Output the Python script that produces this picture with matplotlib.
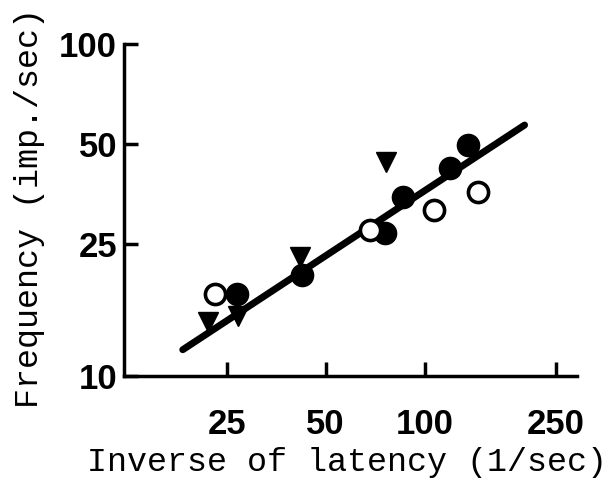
import matplotlib
matplotlib.use("Agg")
import matplotlib.pyplot as plt
from matplotlib.ticker import FixedLocator, NullLocator

# Data (log-log axes)
filled_x = [26.8, 42.3, 75.5, 85.7, 119, 135]
filled_y = [17.7, 20.1, 27.0, 34.6, 42.3, 49.6]
open_x = [23.1, 68.0, 107, 145]
open_y = [17.7, 27.5, 31.6, 35.8]
tri_x = [21.9, 27.0, 41.7, 76.4]
tri_y = [14.5, 15.2, 22.8, 44.1]
fit_x = [18.4, 201]
fit_y = [12.0, 57.0]

x_ticks = [25, 50, 100, 250]
y_ticks = [10, 25, 50, 100]

fig = plt.figure(figsize=(6.16, 4.82), dpi=100)
ax = fig.add_axes([124 / 616, 1 - 376 / 482, (577 - 124) / 616, (376 - 44) / 482])
ax.set_xscale("log")
ax.set_yscale("log")
ax.set_xlim(12.2, 290)
ax.set_ylim(10, 100)

ax.plot(fit_x, fit_y, color="black", linewidth=5, solid_capstyle="round", zorder=2)
ax.plot(filled_x, filled_y, "o", color="black", markersize=16, zorder=3)
ax.plot(open_x, open_y, "o", markerfacecolor="white", markeredgecolor="black",
        markeredgewidth=2.6, markersize=14.5, zorder=4)
ax.plot(tri_x, tri_y, "v", color="black", markersize=15, zorder=3)

for side in ("top", "right"):
    ax.spines[side].set_visible(False)
for side in ("left", "bottom"):
    ax.spines[side].set_linewidth(2.5)

ax.xaxis.set_major_locator(FixedLocator(x_ticks))
ax.yaxis.set_major_locator(FixedLocator(y_ticks))
ax.xaxis.set_minor_locator(NullLocator())
ax.yaxis.set_minor_locator(NullLocator())
ax.set_xticklabels([str(v) for v in x_ticks])
ax.set_yticklabels([str(v) for v in y_ticks])
ax.tick_params(axis="both", direction="in", length=10, width=2.5)
ax.tick_params(axis="x", pad=23)
ax.tick_params(axis="y", pad=5)
for lab in ax.get_xticklabels() + ax.get_yticklabels():
    lab.set_fontfamily(["Liberation Sans Narrow", "Liberation Sans"])
    lab.set_fontweight("bold")
    lab.set_fontsize(25)

fig.text(347 / 616, 1 - 462 / 482, "Inverse of latency (1/sec)",
         family="Liberation Mono", fontsize=24, ha="center", va="center")
fig.text(30 / 616, 1 - 208 / 482, "Frequency (imp./sec)",
         family="Liberation Mono", fontsize=24, ha="center", va="center",
         rotation=90)

fig.savefig("out.png", dpi=100)
